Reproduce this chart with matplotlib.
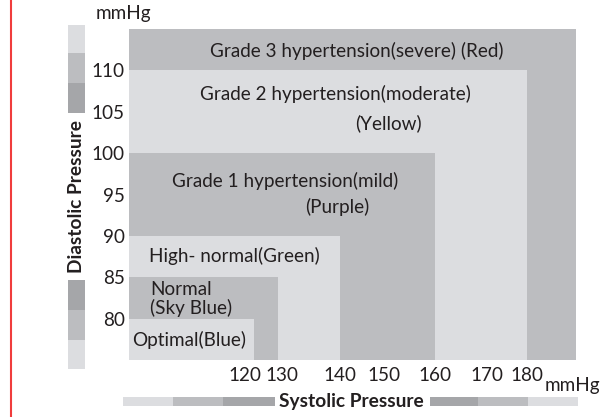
import numpy as np
import matplotlib
matplotlib.use("Agg")
import matplotlib.pyplot as plt
import matplotlib.transforms as mtrans
from matplotlib.patches import Rectangle
from matplotlib.lines import Line2D

plt.rcParams["font.family"] = ["Lato", "DejaVu Sans"]

# ── Data ────────────────────────────────────────────────────────────────
categories = ["Optimal(Blue)", "Normal\n(Sky Blue)", "High- normal(Green)",
              "Grade 1 hypertension(mild)", "Grade 2 hypertension(moderate)",
              "Grade 3 hypertension(severe) (Red)"]
subtitles = ["", "", "", "(Purple)", "(Yellow)", ""]
systolic_upper = [120, 130, 140, 160, 180, 190]
diastolic_upper = [80, 85, 90, 100, 110, 115]
systolic_min, diastolic_min = 110, 75

x_ticks = [120, 130, 140, 150, 160, 170, 180]
y_ticks = [80, 85, 90, 95, 100, 105, 110]

# the systolic axis of the original is not linear: piecewise knots
sys_knots = [110, 120, 130, 140, 150, 160, 170, 180, 190]
pos_knots = [0, 125, 149, 211, 255, 306, 358, 398, 447]

LIGHT = "#dcdde0"
MID = "#bcbdc0"
DARK = "#a5a6a9"
TEXT = "#231f20"
band_colors = [LIGHT, MID, LIGHT, MID, LIGHT, MID]
FS = 13.6

# label anchor (axes fraction, left / centre)
label_pos = [(0.007, 0.060), (0.047, 0.184), (0.045, 0.314),
             (0.096, 0.541), (0.159, 0.804), (0.181, 0.934)]
sub_pos = [None, None, None, (0.394, 0.462), (0.506, 0.716), None]

W, H = 605, 417
fig = plt.figure(figsize=(W / 100, H / 100), dpi=100)
ax = fig.add_axes([129 / W, 1 - 360 / H, 447 / W, 331 / H])

fwd = lambda v: np.interp(v, sys_knots, pos_knots)
inv = lambda v: np.interp(v, pos_knots, sys_knots)
ax.set_xscale("function", functions=(fwd, inv))

# largest band first so smaller ones sit on top
for s, d, c in reversed(list(zip(systolic_upper, diastolic_upper, band_colors))):
    ax.add_patch(Rectangle((systolic_min, diastolic_min), s - systolic_min,
                           d - diastolic_min, facecolor=c, edgecolor="none"))

for lab, pos, sub, spos in zip(categories, label_pos, subtitles, sub_pos):
    ax.text(pos[0], pos[1], lab, transform=ax.transAxes, ha="left", va="center",
            fontsize=FS, color=TEXT, linespacing=1.05)
    if sub:
        ax.text(spos[0], spos[1], sub, transform=ax.transAxes, ha="left",
                va="center", fontsize=FS, color=TEXT)

ax.set_xlim(systolic_min, systolic_upper[-1])
ax.set_ylim(diastolic_min, diastolic_upper[-1])
ax.set_xticks(x_ticks)
ax.set_xticklabels([str(t) for t in x_ticks])
ax.set_yticks(y_ticks)
ax.set_yticklabels([str(t) for t in y_ticks])
ax.tick_params(length=0, labelsize=FS, labelcolor=TEXT)
ax.tick_params(axis="x", pad=5)
ax.tick_params(axis="y", pad=3)
for sp in ax.spines.values():
    sp.set_visible(False)

# the first two systolic labels are nudged apart in the original
for lbl, dx in zip(ax.get_xticklabels()[:2], [-9, 4]):
    lbl.set_transform(lbl.get_transform() +
                      mtrans.ScaledTranslation(dx / 100, 0, fig.dpi_scale_trans))

# units
fig.text(123 / W, 1 - 14 / H, "mmHg", ha="center", va="center", fontsize=FS, color=TEXT)
fig.text(572 / W, 1 - 386 / H, "mmHg", ha="center", va="center", fontsize=FS, color=TEXT)

# decorative pressure bars
def bar(x0, y0, w, h, c):
    fig.add_artist(Rectangle((x0 / W, 1 - (y0 + h) / H), w / W, h / H,
                             transform=fig.transFigure, facecolor=c, edgecolor="none"))

for (y0, y1), c in zip([(25, 53), (53, 83), (83, 113), (280, 310), (310, 340), (340, 369)],
                       [LIGHT, MID, DARK, DARK, MID, LIGHT]):
    bar(68, y0, 17, y1 - y0, c)
for (x0, x1), c in zip([(123, 173), (173, 223), (223, 275), (430, 478), (478, 528), (528, 578)],
                       [LIGHT, MID, DARK, DARK, MID, LIGHT]):
    bar(x0, 397, x1 - x0, 9, c)

fig.text(76.5 / W, 1 - 196.5 / H, "Diastolic Pressure", rotation=90, ha="center",
         va="center", fontsize=13.8, fontweight="bold", color=TEXT)
fig.text(351 / W, 1 - 401 / H, "Systolic Pressure", ha="center", va="center",
         fontsize=13.8, fontweight="bold", color=TEXT)

fig.add_artist(Line2D([11 / W, 11 / W], [0, 1], transform=fig.transFigure,
                      color="#f03c3c", lw=1.5))

fig.savefig("out.png", dpi=100)
